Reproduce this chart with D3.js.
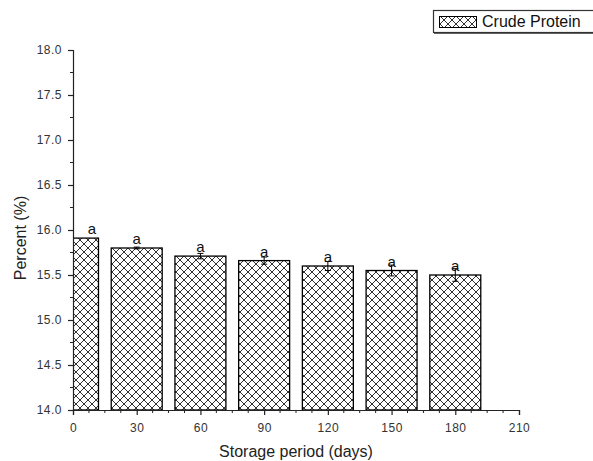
<!DOCTYPE html>
<html><head><meta charset="utf-8">
<script src="https://cdn.jsdelivr.net/npm/d3@7"></script>
<style>body{margin:0;background:#fff;}svg{display:block;}</style>
</head><body>
<script>
const days = [0, 30, 60, 90, 120, 150, 180];
const crudeProtein = [15.91, 15.80, 15.71, 15.66, 15.60, 15.55, 15.50];
const errors = [0.0, 0.01, 0.03, 0.04, 0.05, 0.06, 0.07];
const letters = ["a", "a", "a", "a", "a", "a", "a"];
const xTicks = [0, 30, 60, 90, 120, 150, 180, 210];
const yTicks = [14.0, 14.5, 15.0, 15.5, 16.0, 16.5, 17.0, 17.5, 18.0];
const seriesName = "Crude Protein";

const W = 593, H = 461;
const FONT = "Liberation Sans, Arial, sans-serif";
const svg = d3.select("body").append("svg").attr("width", W).attr("height", H);
const defs = svg.append("defs");
const pat = defs.append("pattern").attr("id","hatch").attr("patternUnits","userSpaceOnUse")
  .attr("width",8).attr("height",8);
pat.append("rect").attr("width",8).attr("height",8).attr("fill","#fff");
pat.append("path").attr("d","M0,0L8,8M8,0L0,8M-1,7L1,9M7,-1L9,1M-1,1L1,-1M7,9L9,7")
  .attr("stroke","#333").attr("stroke-width",1);

const x = d3.scaleLinear().domain([0,210]).range([73,519]);
const y = d3.scaleLinear().domain([14,18]).range([410,50]);
const barW = x(24) - x(0);

svg.append("clipPath").attr("id","plotclip").append("rect")
  .attr("x",x(0)).attr("y",y(18)).attr("width",x(210)-x(0)).attr("height",y(14)-y(18));

const g = svg.append("g").attr("clip-path","url(#plotclip)");
g.selectAll("rect.bar").data(days).enter().append("rect").attr("class","bar")
  .attr("x", (d)=>x(d)-barW/2).attr("width", barW)
  .attr("y", (d,i)=>y(crudeProtein[i])).attr("height",(d,i)=>y(14)-y(crudeProtein[i]))
  .attr("fill","url(#hatch)").attr("stroke","#000").attr("stroke-width",1.3);

// error bars
const eg = svg.append("g").attr("stroke","#000").attr("stroke-width",1);
days.forEach((d,i)=>{
  if (errors[i] <= 0) return;
  const cx = x(d), y1 = y(crudeProtein[i]+errors[i]), y2 = y(crudeProtein[i]-errors[i]);
  eg.append("line").attr("x1",cx).attr("x2",cx).attr("y1",y1).attr("y2",y2);
  eg.append("line").attr("x1",cx-3).attr("x2",cx+3).attr("y1",y1).attr("y2",y1);
  eg.append("line").attr("x1",cx-3).attr("x2",cx+3).attr("y1",y2).attr("y2",y2);
});

// letters
svg.selectAll("text.lett").data(days).enter().append("text").attr("class","lett")
  .attr("x",(d)=>x(d)+ (d===0? 19 : 0)).attr("y",(d,i)=>y(crudeProtein[i]) - 4)
  .attr("text-anchor","middle").attr("font-family",FONT)
  .attr("font-size",15).attr("fill","#111").text((d,i)=>letters[i]);

// axes
const axisColor = "#222";
const xAxis = d3.axisBottom(x).tickValues(xTicks).tickSize(5).tickPadding(8).tickFormat(d3.format("d"));
const xg = svg.append("g").attr("transform",`translate(0,${y(14)})`).call(xAxis);
xg.select(".domain").attr("stroke",axisColor).attr("stroke-width",1.2);
xg.selectAll(".tick line").attr("stroke",axisColor).attr("stroke-width",1.2);
xg.selectAll("text").attr("font-family",FONT).attr("font-size",12).attr("fill","#333").attr("letter-spacing",0.5);
const xMinor = d3.range(0,211,7.5).filter(v=>v%30!==0);
svg.append("g").selectAll("line").data(xMinor).enter().append("line")
  .attr("x1",d=>x(d)).attr("x2",d=>x(d)).attr("y1",y(14)).attr("y2",y(14)+3)
  .attr("stroke",axisColor).attr("stroke-width",1);

const yAxis = d3.axisLeft(y).tickValues(yTicks).tickSize(5).tickPadding(6).tickFormat(d3.format(".1f"));
const yg = svg.append("g").attr("transform",`translate(${x(0)},0)`).call(yAxis);
yg.select(".domain").attr("stroke",axisColor).attr("stroke-width",1.2);
yg.selectAll(".tick line").attr("stroke",axisColor).attr("stroke-width",1.2);
yg.selectAll("text").attr("font-family",FONT).attr("font-size",12).attr("fill","#333").attr("letter-spacing",0.5);
const yMinor = d3.range(14.25,18,0.5);
svg.append("g").selectAll("line").data(yMinor).enter().append("line")
  .attr("x1",x(0)-3).attr("x2",x(0)).attr("y1",d=>y(d)).attr("y2",d=>y(d))
  .attr("stroke",axisColor).attr("stroke-width",1);

// titles
svg.append("text").attr("x",296).attr("y",457).attr("text-anchor","middle")
  .attr("font-family",FONT).attr("font-size",16).attr("fill","#222")
  .text("Storage period (days)");
svg.append("text").attr("transform","translate(26,238) rotate(-90)").attr("text-anchor","middle")
  .attr("font-family",FONT).attr("font-size",16).attr("fill","#222")
  .text("Percent (%)");

// legend
const lg = svg.append("g");
lg.append("rect").attr("x",433.5).attr("y",10.5).attr("width",170).attr("height",22)
  .attr("fill","#fff").attr("stroke","#333").attr("stroke-width",1.2);
lg.append("line").attr("x1",434).attr("x2",600).attr("y1",33).attr("y2",33).attr("stroke","#333").attr("stroke-width",1.5);
lg.append("rect").attr("x",439.5).attr("y",16.5).attr("width",37).attr("height",11)
  .attr("fill","url(#hatch)").attr("stroke","#000").attr("stroke-width",1);
lg.append("text").attr("x",482).attr("y",27).attr("font-family",FONT)
  .attr("font-size",16).attr("fill","#111").text(seriesName);
</script>
</body></html>
